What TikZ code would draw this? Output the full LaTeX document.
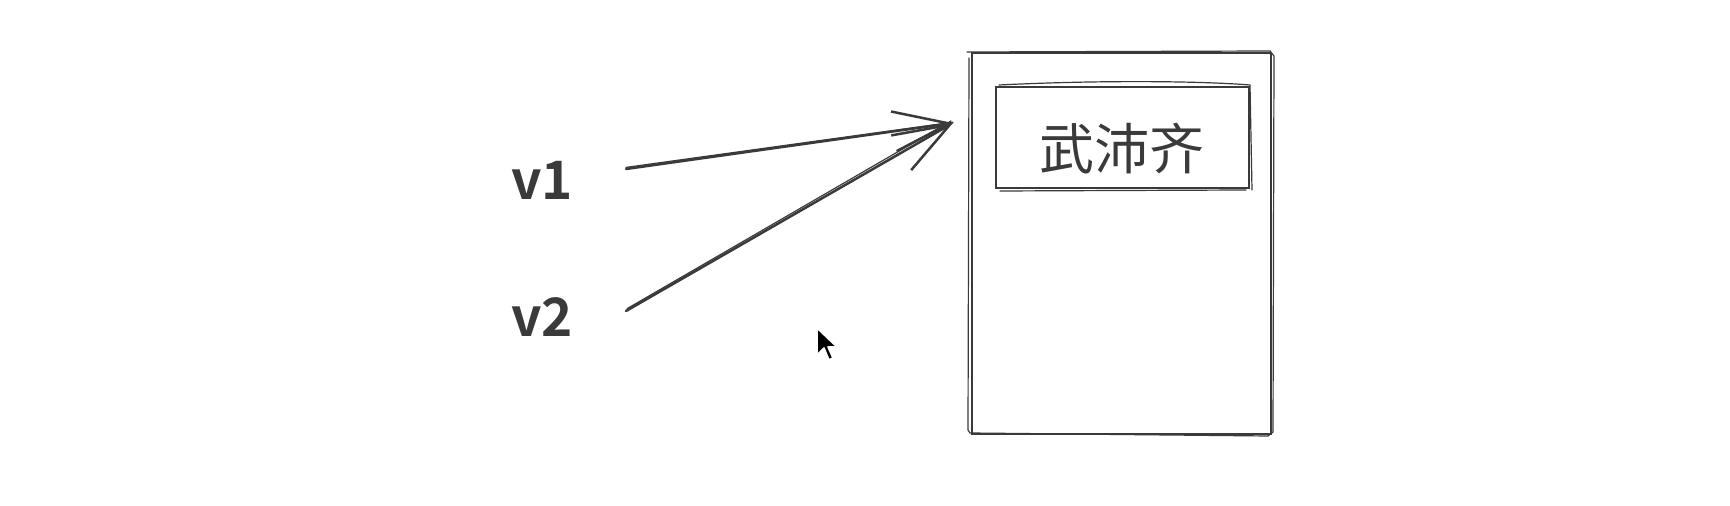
\documentclass[tikz,border=0pt]{standalone}
\usepackage{fontspec}
\newfontfamily\cjk{Noto Sans CJK SC}
\newfontfamily\cjkbold{Noto Sans CJK SC Bold}
\usetikzlibrary{arrows.meta,positioning}
\definecolor{ink}{HTML}{3A3A3A}

\begin{document}
\begin{tikzpicture}[x=0.5pt,y=-0.5pt,
  sketch/.style={draw=ink,line width=1.25pt,line cap=round},
  rough/.style={draw=ink,line width=0.6pt,line cap=round},
  lbl/.style={text=ink,font=\cjkbold\fontsize{26.5pt}{26.5pt}\selectfont,inner sep=0pt,anchor=base},
  title/.style={text=ink,font=\cjk\fontsize{27.5pt}{27.5pt}\selectfont,inner sep=0pt,anchor=base},
  barb/.style={-{Straight Barb[length=28pt,width=20pt,line width=1.25pt]}}]
  \useasboundingbox (0,0) rectangle (1730,506);
  % outer box, drawn twice for the sketchy look
  \draw[sketch] (972,53) rectangle (1271,434);
  \draw[rough] (967,52) -- (1270,51) -- (1274,56) -- (1273,432) -- (1268,436) -- (970,433) -- (968,430) -- (969,58);
  % name field
  \draw[sketch] (996,87) rectangle (1249,188);
  \draw[rough] (999,85) .. controls (1100,80) and (1200,81) .. (1250,85) -- (1252,190);
  \draw[rough] (1000,191) -- (1246,190);
  \node[title] (name) at (1122,170) {\cjk 武沛齐};
  % labels and arrows
  \foreach \n/\y in {1/200,2/337}
    \node[lbl] (v\n) at (542,\y) {v\n};
  \coordinate (s1) at (626,169);
  \coordinate (s2) at (626,311);
  \coordinate (tip) at (953,123);
  \draw[sketch,barb] (s1) -- (tip);
  \draw[sketch,barb] (s2) -- (tip);
  \draw[rough] ([yshift=0.8pt]s1) -- ([yshift=0.4pt]tip);
  \draw[rough] ([xshift=0.6pt,yshift=1.2pt]s2) -- ([xshift=-1pt,yshift=1pt]tip);
  % mouse pointer
  \filldraw[fill=black,draw=white,line width=0.8pt,line join=round]
    (817,328) -- ++(0,27) -- ++(7,-7) -- ++(5,12) -- ++(4,-2) -- ++(-5,-11) -- ++(9,0) -- cycle;
\end{tikzpicture}
\end{document}
